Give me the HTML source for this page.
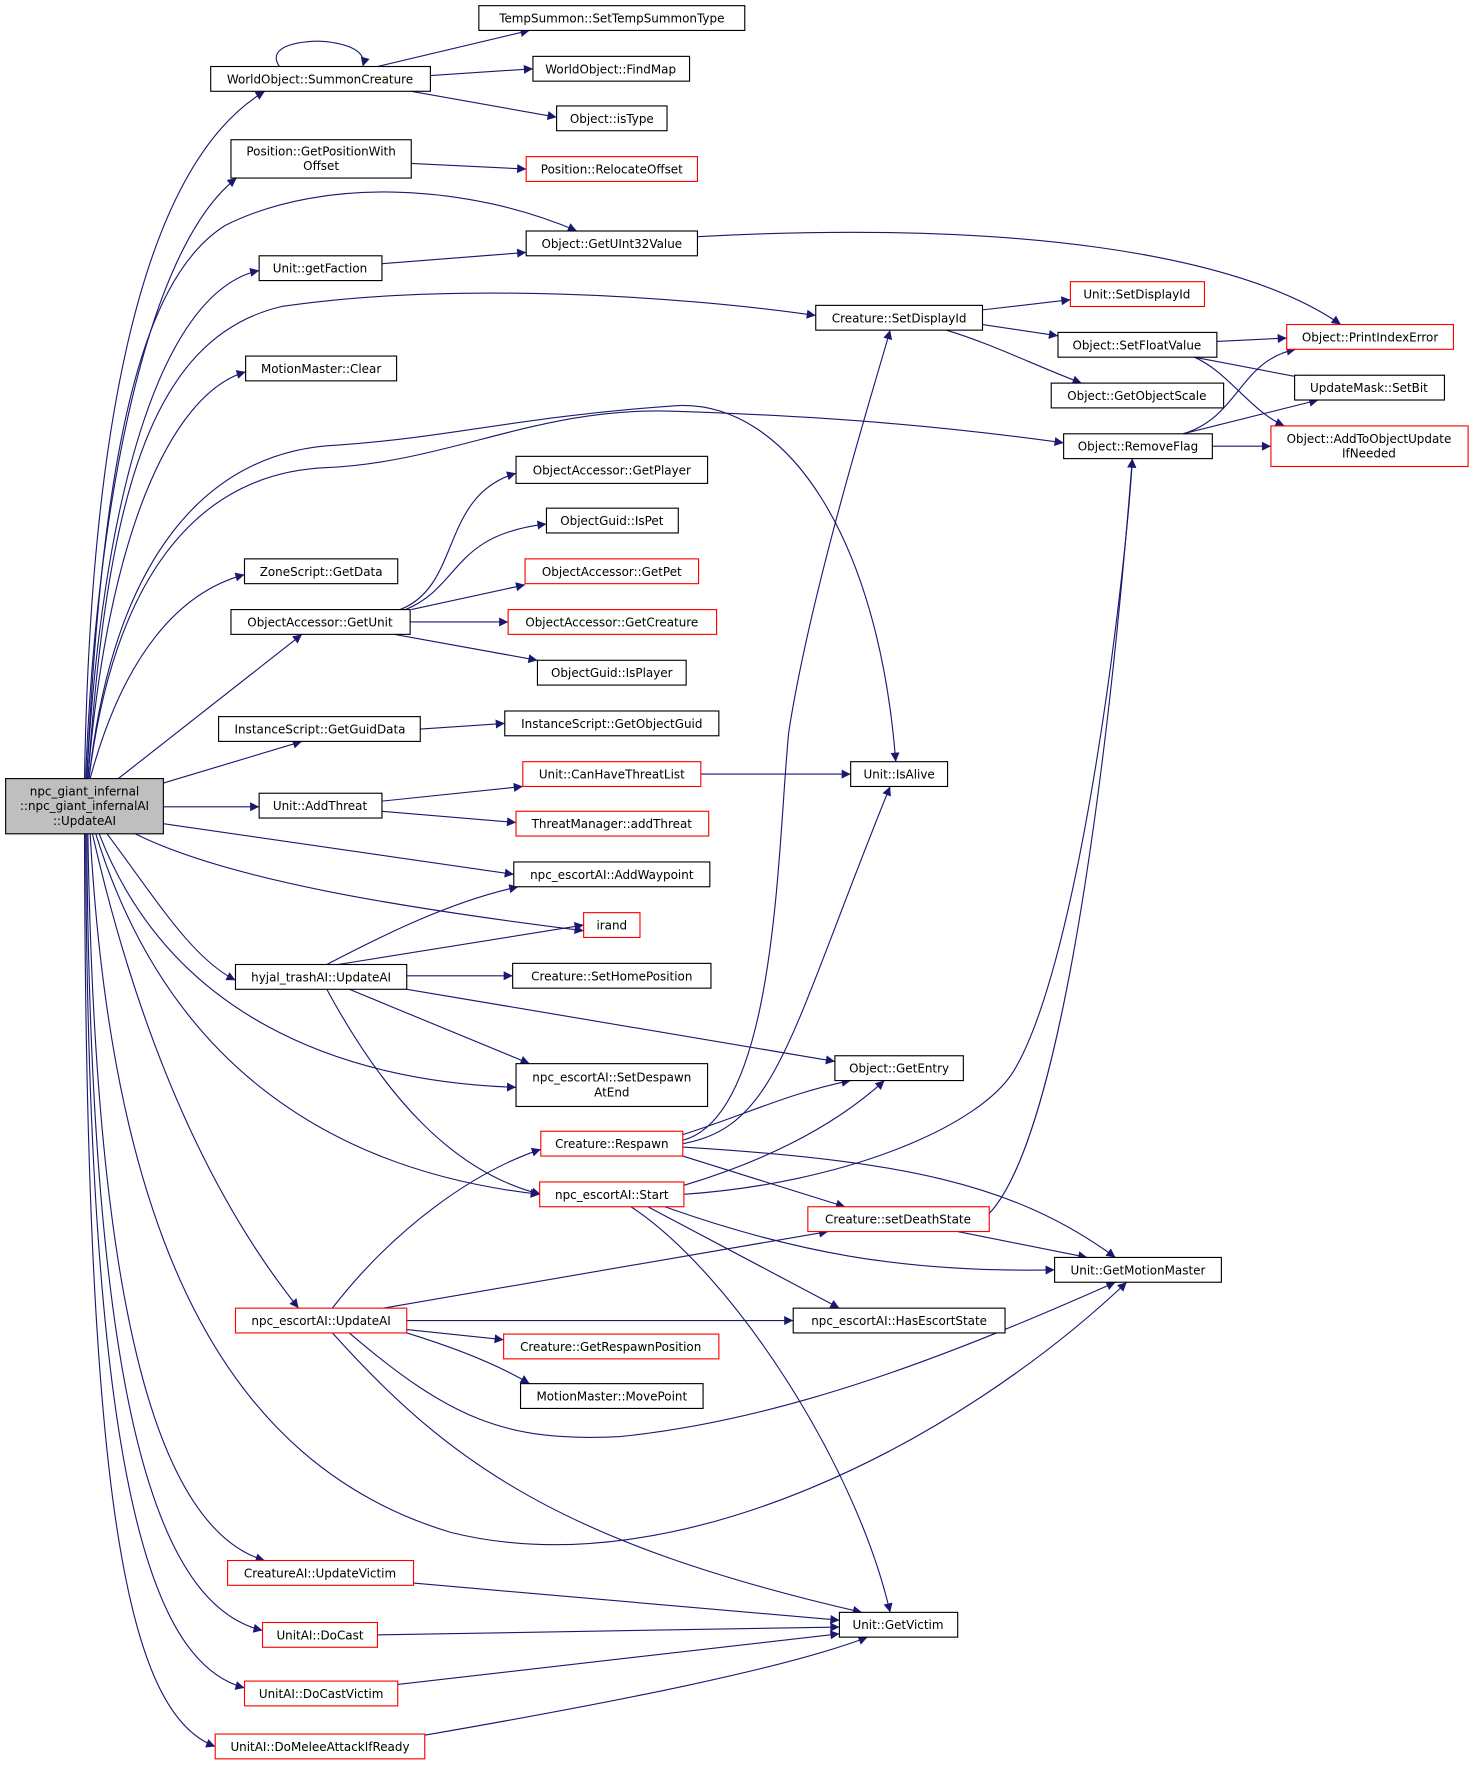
<!DOCTYPE html>
<html><head><meta charset="utf-8"><style>
html,body{margin:0;padding:0;background:#fff;}
svg{display:block;}
text{font-family:"DejaVu Sans","Liberation Sans",sans-serif;font-size:10.6px;fill:#000;}
.n{fill:#fff;stroke:#000;stroke-width:1;}
.r{fill:#fff;stroke:#ff0000;stroke-width:1;}
.e{fill:none;stroke:#191970;stroke-width:1;}
</style></head><body>
<svg width="1476" height="1769" viewBox="0 0 1310 1570" xmlns="http://www.w3.org/2000/svg">
<defs><marker id="a" viewBox="0 0 10 10" refX="10" refY="5" markerWidth="10" markerHeight="8" markerUnits="userSpaceOnUse" orient="auto"><path d="M0,0 L10,5 L0,10 z" fill="#191970"/></marker></defs>
<g marker-end="url(#a)">
<path class="e" d="M75,691 C80,400 120,150 235,81"/>
<path class="e" d="M76,691 C85,450 130,220 210,158"/>
<path class="e" d="M77,691 C90,420 120,250 200,200 C290,155 420,165 512,205"/>
<path class="e" d="M77,691 C90,450 140,260 230,240"/>
<path class="e" d="M78,691 C95,450 130,300 250,272 C400,250 600,262 724,280"/>
<path class="e" d="M78,691 C95,480 150,350 218,330"/>
<path class="e" d="M79,691 C100,500 180,400 300,395 C400,388 460,370 600,360 C700,355 780,480 795,676"/>
<path class="e" d="M79,691 C100,520 170,420 290,415 C400,410 480,360 600,365 C750,370 850,380 944,393"/>
<path class="e" d="M80,691 C110,580 160,525 217,510"/>
<path class="e" d="M105,691 L268,563"/>
<path class="e" d="M145,695 L268,658"/>
<path class="e" d="M145,716 L230,716"/>
<path class="e" d="M145,731 L456,776"/>
<path class="e" d="M120,740 C200,780 350,805 518,826"/>
<path class="e" d="M95,740 C140,800 170,850 209,870"/>
<path class="e" d="M88,740 C150,900 300,960 458,965"/>
<path class="e" d="M85,740 C150,950 300,1040 479,1060"/>
<path class="e" d="M82,740 C130,950 200,1080 265,1161"/>
<path class="e" d="M80,740 C100,1100 200,1300 400,1360 C600,1410 850,1280 1000,1138"/>
<path class="e" d="M78,740 C85,1200 150,1360 235,1385"/>
<path class="e" d="M77,740 C80,1250 140,1425 233,1447"/>
<path class="e" d="M76,740 C78,1300 130,1475 217,1498"/>
<path class="e" d="M75,740 C76,1320 110,1520 191,1550"/>
<path class="e" d="M248,59 C235,40 270,35 290,37 C315,40 325,48 322,59"/>
<path class="e" d="M335,59 L470,27"/>
<path class="e" d="M382,67 L473,61"/>
<path class="e" d="M365,81 L494,104"/>
<path class="e" d="M365,145 L467,150"/>
<path class="e" d="M339,234 L467,224"/>
<path class="e" d="M619,210 C900,195 1100,225 1190,288"/>
<path class="e" d="M872,275 L950,266"/>
<path class="e" d="M872,288 L939,298"/>
<path class="e" d="M840,293 C880,305 920,325 960,340"/>
<path class="e" d="M1080,303 L1142,300"/>
<path class="e" d="M1060,317 L1170,338"/>
<path class="e" d="M1060,317 C1090,330 1110,365 1140,378"/>
<path class="e" d="M1050,385 C1100,370 1100,320 1150,310"/>
<path class="e" d="M1050,385 L1170,355"/>
<path class="e" d="M1076,396 L1128,396"/>
<path class="e" d="M355,541 C410,520 390,440 458,420"/>
<path class="e" d="M360,541 C410,520 400,475 485,465"/>
<path class="e" d="M365,541 L466,519"/>
<path class="e" d="M364,552 L451,552"/>
<path class="e" d="M350,563 L477,586"/>
<path class="e" d="M373,647 L448,642"/>
<path class="e" d="M339,711 L464,698"/>
<path class="e" d="M339,720 L458,730"/>
<path class="e" d="M622,687 L755,687"/>
<path class="e" d="M290,856 C340,830 400,800 460,787"/>
<path class="e" d="M300,856 L518,821"/>
<path class="e" d="M361,866 L455,866"/>
<path class="e" d="M361,878 L741,942"/>
<path class="e" d="M310,878 L470,944"/>
<path class="e" d="M290,878 C340,970 400,1040 480,1060"/>
<path class="e" d="M606,1012 C690,990 690,750 700,650 C720,520 780,330 790,293"/>
<path class="e" d="M606,1007 C660,990 700,970 755,959"/>
<path class="e" d="M606,1015 C690,1000 700,920 790,698"/>
<path class="e" d="M606,1026 L750,1071"/>
<path class="e" d="M606,1018 C800,1030 900,1050 990,1116"/>
<path class="e" d="M607,1060 C750,1050 870,1000 900,950 C960,850 1000,500 1005,407"/>
<path class="e" d="M607,1052 C680,1030 740,1000 785,959"/>
<path class="e" d="M590,1071 C700,1110 800,1130 936,1127"/>
<path class="e" d="M575,1071 L745,1161"/>
<path class="e" d="M560,1071 C650,1130 760,1300 790,1431"/>
<path class="e" d="M878,1077 C950,1000 990,600 1005,407"/>
<path class="e" d="M850,1093 L965,1116"/>
<path class="e" d="M295,1161 C350,1090 420,1040 480,1020"/>
<path class="e" d="M340,1161 L735,1093"/>
<path class="e" d="M361,1172 L704,1172"/>
<path class="e" d="M361,1180 L447,1189"/>
<path class="e" d="M361,1183 C400,1195 440,1210 470,1228"/>
<path class="e" d="M310,1183 C400,1260 450,1280 550,1275 C700,1260 850,1200 990,1138"/>
<path class="e" d="M295,1183 C400,1300 500,1370 765,1431"/>
<path class="e" d="M367,1405 L745,1438"/>
<path class="e" d="M335,1451 L745,1444"/>
<path class="e" d="M353,1495 L745,1450"/>
<path class="e" d="M377,1540 C550,1510 700,1480 770,1453"/>
</g>
<g text-anchor="middle">
<rect x="5" y="691" width="140" height="49" fill="#bfbfbf" stroke="#000"/>
<text x="75" y="706">npc_giant_infernal</text><text x="75" y="719">::npc_giant_infernalAI</text><text x="75" y="732">::UpdateAI</text>
<rect class="n" x="425" y="5" width="236" height="22"/><text x="543" y="20">TempSummon::SetTempSummonType</text>
<rect class="n" x="187" y="59" width="195" height="22"/><text x="284" y="74">WorldObject::SummonCreature</text>
<rect class="n" x="473" y="50" width="139" height="22"/><text x="542" y="65">WorldObject::FindMap</text>
<rect class="n" x="494" y="94" width="98" height="22"/><text x="543" y="109">Object::isType</text>
<rect class="n" x="205" y="124" width="160" height="34"/><text x="285" y="138">Position::GetPositionWith</text><text x="285" y="151">Offset</text>
<rect class="r" x="467" y="139" width="152" height="22"/><text x="543" y="154">Position::RelocateOffset</text>
<rect class="n" x="467" y="205" width="152" height="22"/><text x="543" y="220">Object::GetUInt32Value</text>
<rect class="n" x="230" y="227" width="109" height="22"/><text x="284" y="242">Unit::getFaction</text>
<rect class="n" x="724" y="271" width="148" height="22"/><text x="798" y="286">Creature::SetDisplayId</text>
<rect class="r" x="950" y="250" width="119" height="22"/><text x="1009" y="265">Unit::SetDisplayId</text>
<rect class="n" x="939" y="295" width="141" height="22"/><text x="1009" y="310">Object::SetFloatValue</text>
<rect class="r" x="1142" y="288" width="148" height="22"/><text x="1216" y="303">Object::PrintIndexError</text>
<rect class="n" x="1149" y="333" width="133" height="22"/><text x="1215" y="348">UpdateMask::SetBit</text>
<rect class="n" x="933" y="340" width="153" height="22"/><text x="1009" y="355">Object::GetObjectScale</text>
<rect class="r" x="1128" y="378" width="175" height="36"/><text x="1215" y="393">Object::AddToObjectUpdate</text><text x="1215" y="406">IfNeeded</text>
<rect class="n" x="944" y="385" width="132" height="22"/><text x="1010" y="400">Object::RemoveFlag</text>
<rect class="n" x="218" y="316" width="134" height="22"/><text x="285" y="331">MotionMaster::Clear</text>
<rect class="n" x="458" y="405" width="170" height="24"/><text x="543" y="421">ObjectAccessor::GetPlayer</text>
<rect class="n" x="485" y="451" width="117" height="22"/><text x="543" y="466">ObjectGuid::IsPet</text>
<rect class="r" x="466" y="496" width="154" height="22"/><text x="543" y="511">ObjectAccessor::GetPet</text>
<rect class="n" x="217" y="496" width="136" height="22"/><text x="285" y="511">ZoneScript::GetData</text>
<rect class="n" x="205" y="541" width="159" height="22"/><text x="284" y="556">ObjectAccessor::GetUnit</text>
<rect class="r" x="451" y="541" width="185" height="22"/><text x="543" y="556">ObjectAccessor::GetCreature</text>
<rect class="n" x="477" y="586" width="132" height="22"/><text x="543" y="601">ObjectGuid::IsPlayer</text>
<rect class="n" x="448" y="631" width="190" height="22"/><text x="543" y="646">InstanceScript::GetObjectGuid</text>
<rect class="n" x="194" y="636" width="179" height="22"/><text x="284" y="651">InstanceScript::GetGuidData</text>
<rect class="r" x="464" y="676" width="158" height="22"/><text x="543" y="691">Unit::CanHaveThreatList</text>
<rect class="n" x="755" y="676" width="86" height="22"/><text x="798" y="691">Unit::IsAlive</text>
<rect class="n" x="230" y="704" width="109" height="22"/><text x="284" y="719">Unit::AddThreat</text>
<rect class="r" x="458" y="720" width="171" height="22"/><text x="543" y="735">ThreatManager::addThreat</text>
<rect class="n" x="456" y="765" width="174" height="22"/><text x="543" y="780">npc_escortAI::AddWaypoint</text>
<rect class="r" x="518" y="810" width="50" height="22"/><text x="543" y="825">irand</text>
<rect class="n" x="209" y="856" width="152" height="22"/><text x="285" y="871">hyjal_trashAI::UpdateAI</text>
<rect class="n" x="455" y="855" width="176" height="22"/><text x="543" y="870">Creature::SetHomePosition</text>
<rect class="n" x="741" y="937" width="114" height="22"/><text x="798" y="952">Object::GetEntry</text>
<rect class="n" x="458" y="944" width="170" height="38"/><text x="543" y="960">npc_escortAI::SetDespawn</text><text x="543" y="973">AtEnd</text>
<rect class="r" x="480" y="1004" width="126" height="22"/><text x="543" y="1019">Creature::Respawn</text>
<rect class="r" x="479" y="1049" width="128" height="22"/><text x="543" y="1064">npc_escortAI::Start</text>
<rect class="r" x="717" y="1071" width="161" height="22"/><text x="797" y="1086">Creature::setDeathState</text>
<rect class="n" x="936" y="1116" width="148" height="22"/><text x="1010" y="1131">Unit::GetMotionMaster</text>
<rect class="r" x="209" y="1161" width="152" height="22"/><text x="285" y="1176">npc_escortAI::UpdateAI</text>
<rect class="n" x="704" y="1161" width="188" height="22"/><text x="798" y="1176">npc_escortAI::HasEscortState</text>
<rect class="r" x="447" y="1184" width="191" height="22"/><text x="542" y="1199">Creature::GetRespawnPosition</text>
<rect class="n" x="462" y="1228" width="162" height="22"/><text x="543" y="1243">MotionMaster::MovePoint</text>
<rect class="r" x="202" y="1385" width="165" height="22"/><text x="284" y="1400">CreatureAI::UpdateVictim</text>
<rect class="r" x="233" y="1440" width="102" height="22"/><text x="284" y="1455">UnitAI::DoCast</text>
<rect class="n" x="745" y="1431" width="105" height="22"/><text x="797" y="1446">Unit::GetVictim</text>
<rect class="r" x="217" y="1492" width="136" height="22"/><text x="285" y="1507">UnitAI::DoCastVictim</text>
<rect class="r" x="191" y="1539" width="186" height="22"/><text x="284" y="1554">UnitAI::DoMeleeAttackIfReady</text>
</g>
</svg>
</body></html>
